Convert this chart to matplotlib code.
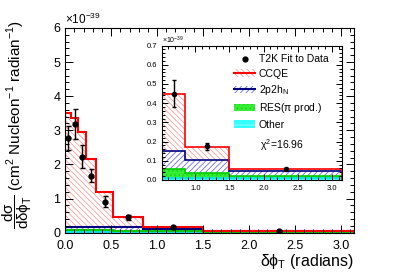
import numpy as np
import matplotlib
matplotlib.use("Agg")
import matplotlib.pyplot as plt
from matplotlib.patches import Patch
from matplotlib.lines import Line2D
from matplotlib.ticker import MultipleLocator, FormatStrFormatter

plt.rcParams['font.family'] = ['Liberation Sans', 'DejaVu Sans']
plt.rcParams['mathtext.fontset'] = 'custom'
plt.rcParams['mathtext.rm'] = 'Liberation Sans'
plt.rcParams['mathtext.it'] = 'Liberation Sans'
plt.rcParams['hatch.linewidth'] = 0.6

# bin edges in dphiT (radians)
edges = np.array([0.0, 0.067, 0.14, 0.225, 0.34, 0.52, 0.85, 1.5, np.pi])

# components, units of 1e-39 (not stacked)
other = np.array([0.012, 0.012, 0.012, 0.012, 0.012, 0.012, 0.010, 0.008])
res = np.array([0.060, 0.060, 0.060, 0.060, 0.055, 0.047, 0.026, 0.014])
twop2h = np.array([0.100, 0.100, 0.100, 0.100, 0.095, 0.093, 0.066, 0.025])
total = np.array([3.52, 3.35, 2.95, 2.15, 1.18, 0.446, 0.171, 0.059])

# data
data_x = 0.5 * (edges[:-1] + edges[1:])
data_y = np.array([2.77, 3.18, 2.23, 1.67, 0.91, 0.45, 0.175, 0.056])
data_err = np.array([0.35, 0.45, 0.35, 0.20, 0.15, 0.068, 0.018, 0.006])

chi2 = 16.96

s1 = other
s2 = s1 + res
s3 = s2 + twop2h
s4 = total

red_line = '#ff0000'
red_hatch = '#f4a0a0'
blue_line = '#000080'
blue_hatch = '#7070e0'
green = '#33ee33'
cyan = '#33ffff'
red_h = '\\\\\\\\\\\\'
blue_h = '//////'


def step_fill(ax, lo, hi, **kw):
    ylo = np.append(lo, lo[-1])
    yhi = np.append(hi, hi[-1])
    ax.fill_between(edges, ylo, yhi, step='post', **kw)


def draw(ax, lw, ms, cap):
    step_fill(ax, np.zeros(len(s1)), s1, facecolor=cyan, edgecolor='#99ffff', hatch='---', linewidth=0)
    step_fill(ax, s1, s2, facecolor=green, edgecolor='#22cc22', hatch='....', linewidth=0)
    step_fill(ax, s2, s3, facecolor='none', edgecolor=blue_hatch, hatch=blue_h, linewidth=0)
    step_fill(ax, s3, s4, facecolor='none', edgecolor=red_hatch, hatch=red_h, linewidth=0)
    ax.stairs(s1, edges, baseline=None, color='#00e5e5', lw=lw)
    ax.stairs(s2, edges, baseline=None, color='#00cc00', lw=lw)
    ax.stairs(s3, edges, baseline=None, color=blue_line, lw=lw)
    ax.stairs(s4, edges, baseline=0, color=red_line, lw=lw)
    ax.errorbar(data_x, data_y, yerr=data_err, fmt='o', color='black', ms=ms,
                elinewidth=1.0, capsize=cap, capthick=1.0, zorder=5)


def root_style(ax, fs, major_len, minor_len):
    ax.tick_params(which='both', direction='in', top=True, right=True, labelsize=fs, width=0.7)
    ax.tick_params(which='major', length=major_len)
    ax.tick_params(which='minor', length=minor_len)
    for sp in ax.spines.values():
        sp.set_linewidth(0.8)


fig = plt.figure(figsize=(4.07, 2.76), dpi=100)
ax = fig.add_axes([0.16, 0.157, 0.71, 0.742])
draw(ax, 1.5, 3.5, 1.8)
ax.set_xlim(0, np.pi)
ax.set_ylim(0, 6)
ax.xaxis.set_major_locator(MultipleLocator(0.5))
ax.xaxis.set_minor_locator(MultipleLocator(0.1))
ax.yaxis.set_major_locator(MultipleLocator(1))
ax.yaxis.set_minor_locator(MultipleLocator(0.2))
ax.xaxis.set_major_formatter(FormatStrFormatter('%.1f'))
ax.yaxis.set_major_formatter(FormatStrFormatter('%d'))
root_style(ax, 9, 6, 3)
ax.tick_params(axis='x', which='major', pad=5.5)
ax.text(0.0, 1.005, r'$\times$10$^{-39}$', transform=ax.transAxes, fontsize=8.5,
        ha='left', va='bottom')
ax.set_xlabel(r'$\delta\phi_{T}$ (radians)', fontsize=11.5, loc='right', labelpad=0)
fig.text(0.043, 0.55,
         r'$\dfrac{d\sigma}{d\delta\phi_{T}}$ (cm$^{2}$ Nucleon$^{-1}$ radian$^{-1}$)',
         rotation=90, fontsize=11, ha='center', va='center')

ins = fig.add_axes([0.399, 0.348, 0.4405, 0.487])
draw(ins, 1.2, 3.0, 1.5)
ins.set_xlim(edges[5], np.pi)
ins.set_ylim(0, 0.7)
ins.xaxis.set_major_locator(MultipleLocator(0.5))
ins.xaxis.set_minor_locator(MultipleLocator(0.1))
ins.yaxis.set_major_locator(MultipleLocator(0.1))
ins.yaxis.set_minor_locator(MultipleLocator(0.02))
ins.xaxis.set_major_formatter(FormatStrFormatter('%.1f'))
ins.yaxis.set_major_formatter(FormatStrFormatter('%.1f'))
root_style(ins, 5.5, 4, 2)
ins.text(0.0, 1.0, r'$\times$10$^{-39}$', transform=ins.transAxes, fontsize=5,
         ha='left', va='bottom')

handles = [
    Line2D([], [], marker='o', color='black', ls='none', ms=3.5),
    (Patch(facecolor='none', edgecolor=red_hatch, hatch=red_h, lw=0),
     Line2D([], [], color=red_line, lw=1.5)),
    (Patch(facecolor='none', edgecolor=blue_hatch, hatch=blue_h, lw=0),
     Line2D([], [], color=blue_line, lw=1.5)),
    (Patch(facecolor=green, edgecolor='#22cc22', hatch='....', lw=0),),
    (Patch(facecolor=cyan, edgecolor='#99ffff', hatch='---', lw=0),),
]
labels = ['T2K Fit to Data', 'CCQE', r'2p2h$_{\rm N}$', r'RES($\pi$ prod.)', 'Other']
leg = ins.legend(handles, labels, loc='upper left', bbox_to_anchor=(0.40, 0.935),
                 frameon=False, fontsize=7.5, handlelength=2.0, handletextpad=0.35,
                 labelspacing=0.42, borderaxespad=0.0, borderpad=0.0)
ins.text(0.545, 0.262, r'$\chi^{2}$=%.2f' % chi2, transform=ins.transAxes, fontsize=7.5,
         ha='left', va='center')

fig.savefig('out.png', dpi=100)
